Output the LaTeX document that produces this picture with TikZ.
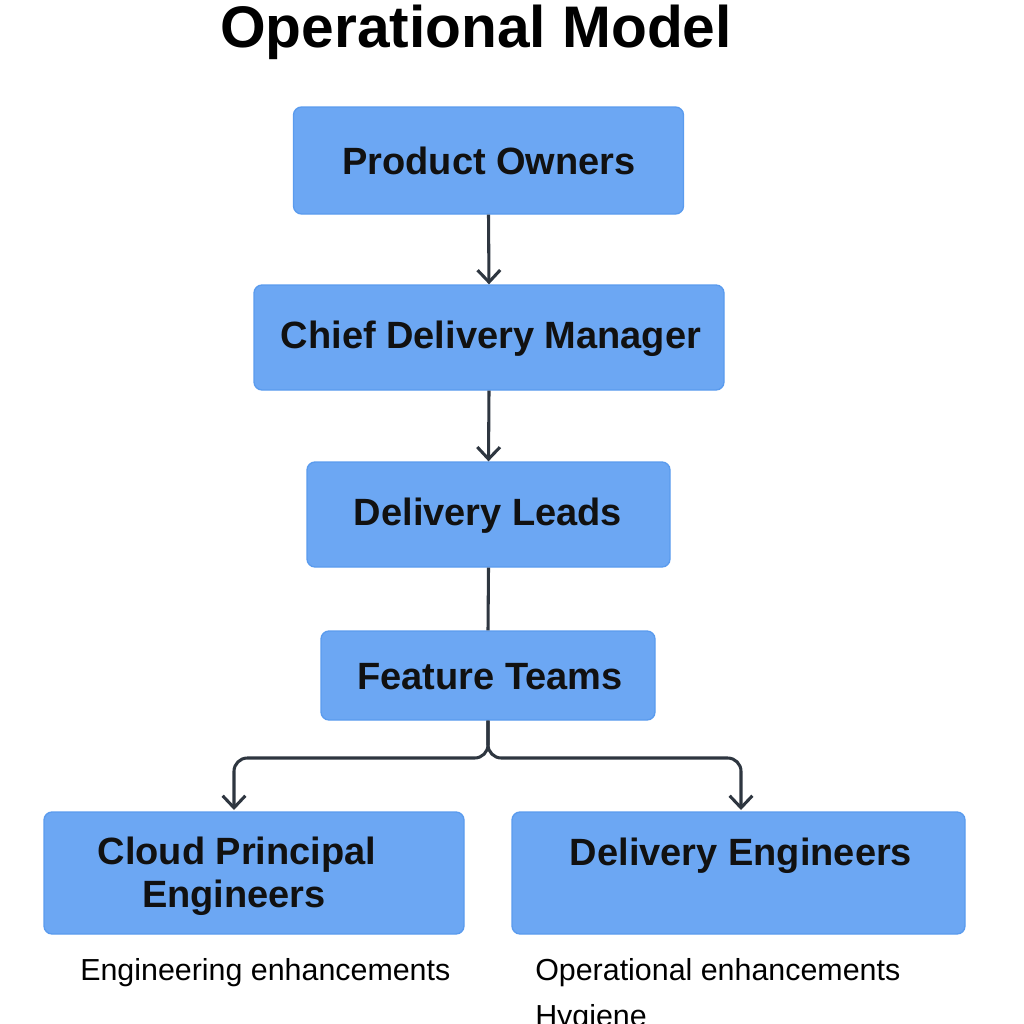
\documentclass[tikz,border=0pt]{standalone}
\usepackage{fontspec}
\setmainfont{Liberation Sans}
\usetikzlibrary{arrows.meta}
\definecolor{boxfill}{HTML}{6CA7F3}
\definecolor{boxline}{HTML}{5A9BEE}
\definecolor{conn}{HTML}{2E3640}
\definecolor{txt}{HTML}{111111}
\tikzset{
  box/.style={draw=boxline, line width=1pt, fill=boxfill, rounded corners=6pt, inner sep=0pt},
  boxtext/.style={text=txt, font=\bfseries\fontsize{28.5}{34}\selectfont, inner sep=0pt, align=center},
  note/.style={text=black, font=\fontsize{22.8}{26}\selectfont, inner sep=0pt, anchor=base west},
  conn/.style={draw=conn, line width=2.3pt},
  arr/.style={conn, -{Straight Barb[length=9pt, width=17pt, line width=2.3pt]}},
}
\begin{document}
\begin{tikzpicture}[x=0.75pt, y=-0.75pt]
\useasboundingbox (0,0) rectangle (1024,1024);
\node[text=black, font=\bfseries\fontsize{44}{50}\selectfont, inner sep=0pt, anchor=base] (title) at (476,48) {Operational Model};

\node[box, minimum width=292.5pt, minimum height=80.25pt] (po) at (488.5,160.5) {};
\node[box, minimum width=352.5pt, minimum height=78.75pt] (cdm) at (489,337.5) {};
\node[box, minimum width=272.25pt, minimum height=78.75pt] (dl) at (488.5,514.5) {};
\node[box, minimum width=250.5pt, minimum height=66.75pt] (ft) at (488,675.5) {};
\node[box, minimum width=315pt, minimum height=91.5pt] (cpe) at (254,873) {};
\node[box, minimum width=339.75pt, minimum height=91.5pt] (de) at (738.5,873) {};

\node[boxtext] (tpo) at (489,161) {Product Owners};
\node[boxtext] (tcdm) at (491,339) {Chief Delivery Manager};
\node[boxtext] (tdl) at (488,516) {Delivery Leads};
\node[boxtext] (tft) at (490,677) {Feature Teams};
\node[boxtext] (tcpe1) at (237,855) {Cloud Principal};
\node[boxtext] (tcpe2) at (234,898) {Engineers};
\node[boxtext] (tde) at (741,856) {Delivery Engineers};

\node[note] (n1) at (80,980) {Engineering enhancements};
\node[note] (n2) at (535,980) {Operational enhancements};
\node[note] (n3) at (535,1026) {Hygiene};

\coordinate (lt) at (234,810);
\coordinate (rt) at (741,810);
\coordinate (jn) at (488,758);

\draw[arr] (po.south) -- (cdm.north);
\draw[arr] (cdm.south) -- (dl.north);
\draw[conn] (dl.south) -- (ft.north);
\draw[arr, rounded corners=10pt] (ft.south) -- (jn) -| (lt);
\draw[arr, rounded corners=10pt] (ft.south) -- (jn) -| (rt);
\end{tikzpicture}
\end{document}
